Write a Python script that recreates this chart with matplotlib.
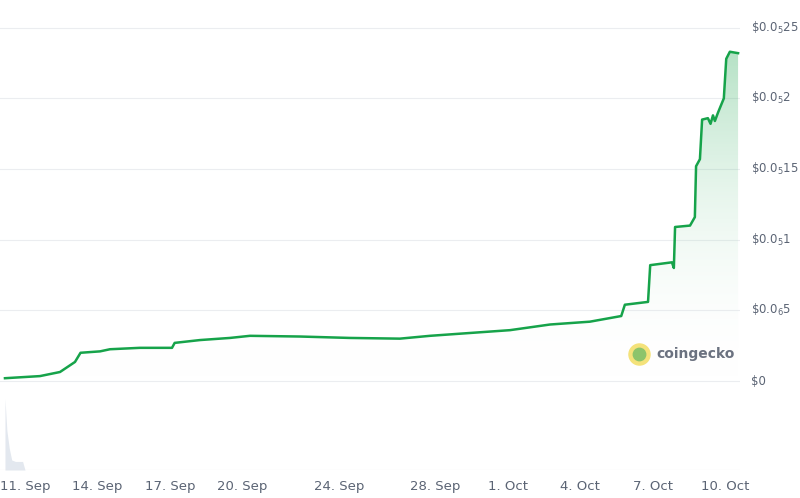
import matplotlib
matplotlib.use("Agg")
import matplotlib.pyplot as plt
import numpy as np
from matplotlib.patches import Polygon

# day numbers: Sep = day of month, Oct 1 = 31
days = [10.17, 11.62, 12.45, 13.07, 13.30, 14.11, 14.52, 15.76, 17.09, 17.20, 18.25, 19.49,
        20.32, 22.39, 24.46, 26.53, 27.78, 29.43, 31.09, 32.75, 34.40, 35.70, 35.85, 36.81,
        36.90, 37.80, 37.88, 37.93, 38.55, 38.75, 38.80, 38.96, 39.05, 39.29, 39.40, 39.50,
        39.58, 39.71, 39.83, 39.95, 40.05, 40.20, 40.54]
price = [0.02, 0.035, 0.064, 0.135, 0.20, 0.21, 0.225, 0.235, 0.235, 0.27, 0.29, 0.305,
         0.32, 0.315, 0.305, 0.30, 0.32, 0.34, 0.36, 0.40, 0.42, 0.46, 0.54, 0.56,
         0.82, 0.84, 0.80, 1.09, 1.10, 1.16, 1.52, 1.57, 1.85, 1.86, 1.82, 1.88,
         1.84, 1.90, 1.95, 2.00, 2.28, 2.33, 2.32]
price = [p * 1e-6 for p in price]

vol_days = [10.17, 10.25, 10.35, 10.45, 10.6, 10.9, 11.0]
volume = [1.0, 0.55, 0.3, 0.14, 0.12, 0.12, 0.0]

tick_days = [11, 14, 17, 20, 24, 28, 31, 34, 37, 40]
tick_labels = ["11. Sep", "14. Sep", "17. Sep", "20. Sep", "24. Sep", "28. Sep",
               "1. Oct", "4. Oct", "7. Oct", "10. Oct"]
y_ticks = [0, 0.5e-6, 1e-6, 1.5e-6, 2e-6, 2.5e-6]
y_labels = [r"\$0", r"\$0.0$_6$5", r"\$0.0$_5$1", r"\$0.0$_5$15", r"\$0.0$_5$2", r"\$0.0$_5$25"]

green = "#16a34a"
grey = "#5b6474"
xlim = (9.964, 40.62)

fig = plt.figure(figsize=(8, 4.98), dpi=100)
ax = fig.add_axes([0, 1 - 385 / 498, 740 / 800, 370 / 498])
ax.set_xlim(*xlim)
ax.set_ylim(-0.028e-6, 2.59e-6)

x = np.array(days)
y = np.array(price)
ax.plot(x, y, color=green, lw=1.8, zorder=3)

# gradient fill under the line
grad = np.linspace(0, 1, 256).reshape(-1, 1)
cmap = matplotlib.colors.LinearSegmentedColormap.from_list(
    "g", [(1, 1, 1, 0), (0.09, 0.64, 0.29, 0.32)])
im = ax.imshow(grad, extent=[x[0], x[-1], 0, y.max()], origin="lower",
               aspect="auto", cmap=cmap, zorder=2)
poly = Polygon(np.column_stack([np.r_[x[0], x, x[-1]], np.r_[0, y, 0]]),
               closed=True, transform=ax.transData, facecolor="none", edgecolor="none")
ax.add_patch(poly)
im.set_clip_path(poly)

for t in y_ticks:
    ax.axhline(t, color="#ebedf0", lw=0.8, zorder=1)
ax.set_yticks([])
ax.set_xticks([])
for s in ax.spines.values():
    s.set_visible(False)
for t, lab in zip(y_ticks, y_labels):
    ax.text(1.015, t, lab, transform=ax.get_yaxis_transform(), color=grey,
            fontsize=8.5, va="center", ha="left")

# watermark
ax.scatter([36.45], [0.19e-6], s=230, color="#f4e27a", zorder=4)
ax.scatter([36.45], [0.19e-6], s=80, color="#8cc46b", zorder=5)
ax.text(37.15, 0.19e-6, "coingecko", color="#6b7280", fontsize=10,
        fontweight="bold", va="center", zorder=5)

vax = fig.add_axes([0, 28 / 498, 740 / 800, 75 / 498])
vax.set_xlim(*xlim)
vax.set_ylim(0, 1.05)
vax.fill_between(vol_days, volume, color="#e3e8ef", lw=0)
for s in vax.spines.values():
    s.set_visible(False)
vax.axhline(0, color="#e5e7eb", lw=0.8)
vax.set_yticks([])
vax.set_xticks(tick_days)
vax.set_xticklabels(tick_labels, color=grey, fontsize=9.5)
vax.tick_params(axis="x", length=0, pad=7)

fig.savefig("out.png", dpi=100, facecolor="white")
